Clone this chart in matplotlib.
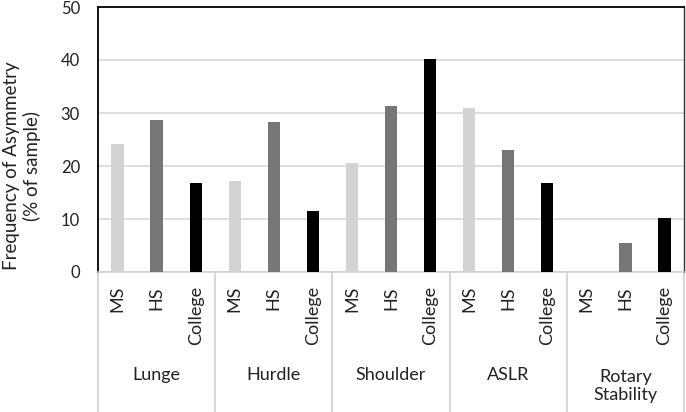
import numpy as np
import matplotlib.pyplot as plt
import matplotlib.transforms as mtransforms

plt.rcParams['font.family'] = ['Lato', 'DejaVu Sans']

groups = ['Lunge', 'Hurdle', 'Shoulder', 'ASLR', 'Rotary\nStability']
levels = ['MS', 'HS', 'College']
ms = [24.1, 17.1, 20.6, 30.9, 0.0]
hs = [28.7, 28.3, 31.4, 23.0, 5.5]
college = [16.8, 11.6, 40.2, 16.8, 10.1]
colors = ['#d3d3d3', '#767676', '#000000']

fig = plt.figure(figsize=(6.86, 4.12), dpi=100)
ax = fig.add_axes([98/686, 1-272/412, 586/686, 265/412])

series = [ms, hs, college]
for j, vals in enumerate(series):
    x = np.arange(len(groups))*3 + j
    ax.bar(x, vals, width=0.315, color=colors[j], zorder=3)

ax.set_xlim(-0.5, 14.5)
ax.set_ylim(0, 50)
ax.set_yticks(np.arange(0, 51, 10))
ax.tick_params(axis='y', length=0, labelsize=12, colors='#222222', pad=13)
ax.set_xticks([])
ax.grid(axis='y', color='#d9d9d9', linewidth=1.2, zorder=0)
ax.set_axisbelow(True)
for s in ['left', 'top']:
    ax.spines[s].set_color('#000000')
    ax.spines[s].set_linewidth(1.3)
ax.spines['right'].set_color('#333333')
ax.spines['right'].set_linewidth(1.0)
ax.spines['bottom'].set_color('#d0d0d0')
ax.spines['bottom'].set_linewidth(1.2)

fig.text(22/686, 1-166/412, 'Frequency of Asymmetry\n(% of sample)', rotation=90,
         ha='center', va='center', fontsize=13.5, color='#222222', linespacing=1.15)

trans = mtransforms.blended_transform_factory(ax.transData, fig.transFigure)
for i, g in enumerate(groups):
    for j, lv in enumerate(levels):
        ax.text(i*3 + j, 1-286/412, lv, transform=trans, rotation=90,
                ha='center', va='top', fontsize=13, color='#222222')
    yc = 375 + 11*g.count('\n')
    ax.text(i*3 + 1, 1-yc/412, g, transform=trans, ha='center', va='center',
            fontsize=13, color='#222222', linespacing=1.2)
for b in np.arange(len(groups)+1)*3 - 0.5:
    ax.plot([b, b], [1-272/412, 0], transform=trans, color='#d0d0d0',
            linewidth=1.2, clip_on=False)

fig.savefig('out.png', dpi=100)
